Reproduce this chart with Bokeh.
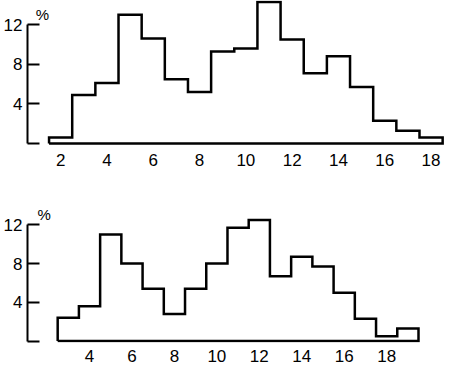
from bokeh.plotting import figure
from bokeh.layouts import column
from bokeh.models import FixedTicker, Range1d, Label
from bokeh.embed import file_html
from bokeh.resources import INLINE

# ---- data ----
top_centers = [2, 3, 4, 5, 6, 7, 8, 9, 10, 11, 12, 13, 14, 15, 16, 17, 18]
top_values = [0.6, 4.9, 6.1, 13.0, 10.6, 6.5, 5.2, 9.3, 9.6, 14.3, 10.5, 7.1, 8.8, 5.7, 2.3, 1.3, 0.6]
bottom_centers = [3, 4, 5, 6, 7, 8, 9, 10, 11, 12, 13, 14, 15, 16, 17, 18, 19]
bottom_values = [2.4, 3.6, 11.0, 8.0, 5.4, 2.8, 5.4, 8.0, 11.7, 12.5, 6.7, 8.7, 7.7, 5.0, 2.3, 0.5, 1.3]
y_ticks = [0, 4, 8, 12]
top_x_ticks = [2, 4, 6, 8, 10, 12, 14, 16, 18]
bottom_x_ticks = [4, 6, 8, 10, 12, 14, 16, 18]
unit_label = "%"

FONT = "Liberation Sans"


def outline(centers, values, width=1.0):
    xs, ys = [], []
    left0 = centers[0] - width / 2
    xs.append(left0); ys.append(0)
    for c, v in zip(centers, values):
        xs += [c - width / 2, c + width / 2]
        ys += [v, v]
    xs.append(centers[-1] + width / 2); ys.append(0)
    xs.append(left0); ys.append(0)
    return xs, ys


def make_fig(centers, values, xticks, x_range, y_range, height, mb_bottom, standoff, pct_xy):
    p = figure(width=444, height=height, output_backend="svg", toolbar_location=None,
               x_range=Range1d(*x_range), y_range=Range1d(*y_range),
               min_border_left=24, min_border_right=0, min_border_top=0,
               min_border_bottom=mb_bottom)
    p.outline_line_color = None
    p.xgrid.visible = False
    p.ygrid.visible = False
    p.background_fill_color = "white"
    p.border_fill_color = "white"

    xs, ys = outline(centers, values)
    p.line(xs, ys, line_color="black", line_width=2.5, line_join="miter")

    ya = p.yaxis[0]
    ya.ticker = FixedTicker(ticks=y_ticks)
    ya.bounds = (0, 12)
    ya.axis_line_width = 2
    ya.axis_line_color = "black"
    ya.major_tick_in = 12
    ya.major_tick_out = 0
    ya.major_tick_line_width = 2
    ya.major_tick_line_color = "black"
    ya.minor_tick_line_color = None
    ya.major_label_overrides = {0: ""}
    ya.major_label_text_font = FONT
    ya.major_label_text_font_size = "17px"
    ya.major_label_text_color = "black"
    ya.major_label_standoff = 5

    xa = p.xaxis[0]
    xa.ticker = FixedTicker(ticks=xticks)
    xa.axis_line_color = None
    xa.major_tick_line_color = None
    xa.minor_tick_line_color = None
    xa.major_label_text_font = FONT
    xa.major_label_text_font_size = "17px"
    xa.major_label_text_color = "black"
    xa.major_label_standoff = standoff

    p.add_layout(Label(x=pct_xy[0], y=pct_xy[1], text=unit_label, text_font=FONT,
                       text_font_size="15px", text_color="black",
                       text_align="center", text_baseline="middle"))
    return p


p1 = make_fig(top_centers, top_values, top_x_ticks, (0.569, 18.58), (-0.2, 14.44),
              205, 60, 2, (1.21, 13.04))
p2 = make_fig(bottom_centers, bottom_values, bottom_x_ticks, (1.078, 20.725), (-0.15, 14.0),
              159, 20, 1, (1.86, 13.1))

layout = column(p1, p2, spacing=0)
open("out.html", "w").write(file_html(layout, INLINE))
